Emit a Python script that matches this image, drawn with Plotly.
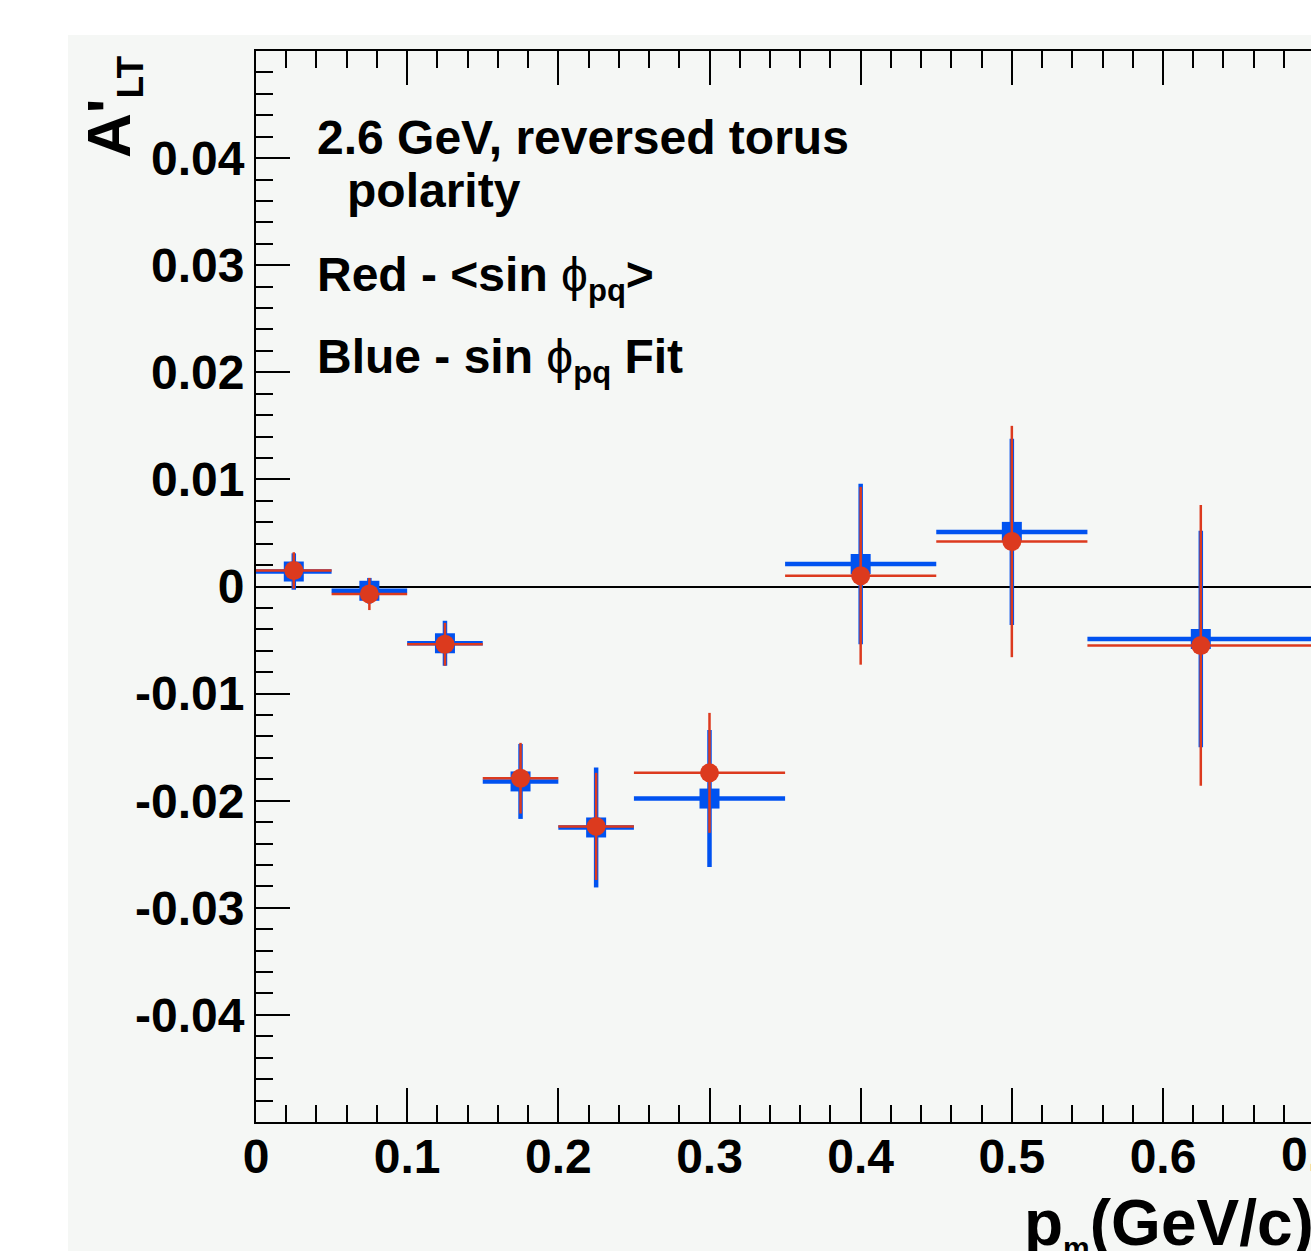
import plotly.graph_objects as go

# ---------------- data ----------------
pm_centers = [0.025, 0.075, 0.125, 0.175, 0.225, 0.3, 0.4, 0.5, 0.625]
pm_halfwidth = [0.025, 0.025, 0.025, 0.025, 0.025, 0.05, 0.05, 0.05, 0.075]

red_avg_sin = [0.0015, -0.0007, -0.0054, -0.0179, -0.0224, -0.0174, 0.0010, 0.0042, -0.0055]
red_avg_sin_err = [0.0017, 0.0015, 0.0020, 0.0033, 0.0050, 0.0056, 0.0083, 0.0108, 0.0131]

blue_fit = [0.0014, -0.0004, -0.0053, -0.0182, -0.0225, -0.0198, 0.0021, 0.0051, -0.0049]
blue_fit_err = [0.0017, 0.0012, 0.0021, 0.0035, 0.0056, 0.0064, 0.0075, 0.0087, 0.0101]

y_tickvals = [-0.04, -0.03, -0.02, -0.01, 0, 0.01, 0.02, 0.03, 0.04]
y_ticktext = ["-0.04", "-0.03", "-0.02", "-0.01", "0", "0.01", "0.02", "0.03", "0.04"]
x_tickvals = [0, 0.1, 0.2, 0.3, 0.4, 0.5, 0.6]
x_ticktext = ["0", "0.1", "0.2", "0.3", "0.4", "0.5", "0.6"]

# ---------------- layout geometry ----------------
W, H = 1311, 1251
L, R, T, B = 256, 1311, 51, 1122
XMAX = 0.6979
BLUE = "#0052f0"
RED = "#dc3a1e"
BG = "#f5f7f5"
FONT = "Liberation Sans, Arial, sans-serif"


def px(x):
    return (x - L) / (R - L)


def py(y):
    return (B - y) / (B - T)


fig = go.Figure()

fig.add_trace(go.Scatter(
    x=pm_centers, y=blue_fit, mode="markers",
    marker=dict(symbol="square", size=20, color=BLUE, line=dict(width=0)),
    error_x=dict(type="data", array=pm_halfwidth, color=BLUE, thickness=4.5, width=0),
    error_y=dict(type="data", array=blue_fit_err, color=BLUE, thickness=4.5, width=0),
    name="sin phi fit", cliponaxis=True,
))
fig.add_trace(go.Scatter(
    x=pm_centers, y=red_avg_sin, mode="markers",
    marker=dict(symbol="circle", size=19, color=RED, line=dict(width=0)),
    error_x=dict(type="data", array=pm_halfwidth, color=RED, thickness=2.5, width=0),
    error_y=dict(type="data", array=red_avg_sin_err, color=RED, thickness=2.5, width=0),
    name="<sin phi>", cliponaxis=True,
))

tickfont = dict(family=FONT, size=48, color="black", weight="bold")

fig.update_layout(
    width=W, height=H,
    margin=dict(l=L, r=W - R, t=T, b=H - B, autoexpand=False),
    paper_bgcolor="white",
    plot_bgcolor="rgba(0,0,0,0)",
    showlegend=False,
    xaxis=dict(
        range=[0, XMAX], showgrid=False, zeroline=False,
        showline=True, linecolor="black", linewidth=2, mirror="ticks",
        ticks="inside", ticklen=34, tickwidth=2, tickcolor="black",
        tickmode="array", tickvals=x_tickvals, ticktext=x_ticktext,
        minor=dict(ticks="inside", ticklen=17, tickwidth=2, tickcolor="black",
                   dtick=0.02, tick0=0, showgrid=False),
        tickfont=tickfont, ticklabelstandoff=-9,
    ),
    yaxis=dict(
        range=[-0.05, 0.05], showgrid=False,
        zeroline=True, zerolinecolor="black", zerolinewidth=2,
        showline=True, linecolor="black", linewidth=2, mirror=False,
        ticks="inside", ticklen=34, tickwidth=2, tickcolor="black",
        tickmode="array", tickvals=y_tickvals, ticktext=y_ticktext,
        minor=dict(ticks="inside", ticklen=17, tickwidth=2, tickcolor="black",
                   dtick=0.002, tick0=0, showgrid=False),
        tickfont=tickfont, ticklabelstandoff=0,
    ),
    yaxis2=dict(
        range=[-0.05, 0.05], overlaying="y", side="right", showgrid=False,
        zeroline=False, showline=False, showticklabels=False,
        ticks="inside", ticklen=29, tickwidth=2, tickcolor="black",
        tickmode="array", tickvals=y_tickvals,
        minor=dict(ticks="inside", ticklen=14, tickwidth=2, tickcolor="black",
                   dtick=0.002, tick0=0, showgrid=False),
    ),
)

# background panel (grey scanned page area)
fig.add_shape(type="rect", xref="paper", yref="paper",
              x0=px(68), x1=px(W + 20), y0=py(H + 20), y1=py(35),
              fillcolor=BG, line=dict(width=0), layer="below")

SUB = "<sub><span style='font-size:31px'><b>pq</b></span></sub>"
ann = []
txt = dict(family=FONT, size=48, color="black")
ann.append(dict(text="<b>2.6 GeV, reversed torus</b>", x=px(315), y=py(137),
                xanchor="left", yanchor="middle"))
ann.append(dict(text="<b>polarity</b>", x=px(345), y=py(191),
                xanchor="left", yanchor="middle"))
ann.append(dict(text="<b>Red - &lt;sin </b>\u03d5" + SUB + "<b>&gt;</b>",
                x=px(315), y=py(278), xanchor="left", yanchor="middle"))
ann.append(dict(text="<b>Blue - sin </b>\u03d5" + SUB + "<b> Fit</b>",
                x=px(315), y=py(360), xanchor="left", yanchor="middle"))
for a in ann:
    fig.add_annotation(xref="paper", yref="paper", showarrow=False, font=txt,
                       align="left", **a)

# axis titles
fig.add_annotation(xref="paper", yref="paper", showarrow=False,
                   text="<b>A'<sub><span style='font-size:37px'>LT</span></sub></b>",
                   x=px(112), y=py(54), xanchor="center", yanchor="top",
                   textangle=-90, font=dict(family=FONT, size=62, color="black"))
fig.add_annotation(xref="paper", yref="paper", showarrow=False,
                   text="<b>p<sub><span style='font-size:30px'>m</span></sub>(GeV/c)</b>",
                   x=px(1316), y=py(1225), xanchor="right", yanchor="middle",
                   font=dict(family=FONT, size=64, color="black"))
# tick label of 0.7 cut by the right edge
fig.add_annotation(xref="paper", yref="paper", showarrow=False,
                   text="<b>0.7</b>", x=px(1314), y=py(1155),
                   xanchor="center", yanchor="middle", font=tickfont)

fig.write_html("out.html")
